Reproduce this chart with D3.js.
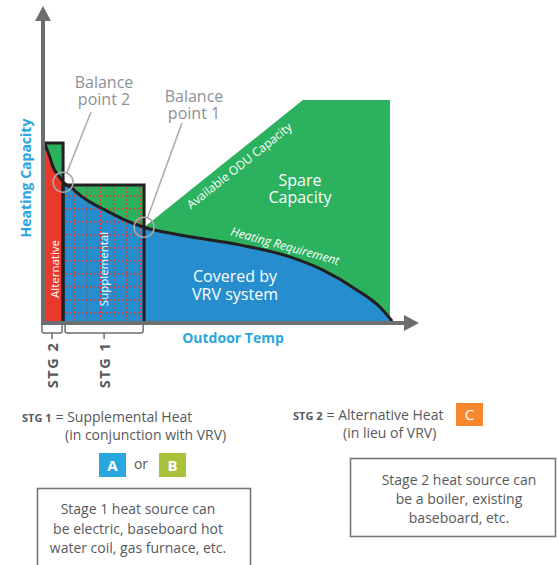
<!DOCTYPE html>
<html><head><meta charset="utf-8">
<script src="https://cdn.jsdelivr.net/npm/d3@7"></script>
<style>body{margin:0;background:#fff} svg{display:block;font-family:"Open Sans",sans-serif}</style>
</head><body><svg id="c" width="557" height="565"></svg>
<script>
// ---- data (abstract units: outdoor temp 0-100, heating capacity 0-100) ----
const tempX   = [0.2, 1.7, 2.5, 3.9, 5.3, 8.1, 10, 12.8, 17.5, 21.9, 27.8, 37.8, 54.4, 68.3, 77.5, 86.9, 93.3, 96.7];
const heatReq = [59.5, 54.7, 51.7, 49, 46.7, 44.3, 42.3, 40, 37, 34.3, 31.6, 29, 25.7, 21.7, 17.3, 10.7, 5, 0.3];
const oduX = [27.8, 71.9, 96.1, 96.1];
const oduY = [31.6, 74, 74, 0];
const stageLabels = ["STG 2", "STG 1"];
const stageX0 = [0, 5.3];
const stageX1 = [5.3, 27.8];
const stageTop = [59.7, 45.7];
const stageInner = ["Alternative", "Supplemental"];
const balanceX = [5.3, 27.8];
const balanceY = [46.6, 31.6];
const balanceLabels = [["Balance", "point 2"], ["Balance", "point 1"]];

const C = {green:"#2cb25f", blue:"#268ecf", red:"#e8392b", axis:"#6d6e70", ltext:"#2ba6de", gtext:"#8b9198", dark:"#231f20", txt:"#58595b"};

const svg = d3.select("#c");
const x = d3.scaleLinear().domain([0, 100]).range([44, 404]);
const y = d3.scaleLinear().domain([0, 100]).range([322, 22]);
const pts = tempX.map((t, i) => [t, heatReq[i]]);

const defs = svg.append("defs");
defs.append("clipPath").attr("id", "clipL").append("rect")
  .attr("x", 0).attr("y", 0).attr("width", x(stageX1[0])).attr("height", 565);
defs.append("clipPath").attr("id", "clipR").append("rect")
  .attr("x", x(stageX1[0])).attr("y", 0).attr("width", 557).attr("height", 565);

// multi-line text helper (one text element, tspans)
function multi(xx, yy, lines, lh, attrs) {
  const t = svg.append("text").attr("x", xx).attr("y", yy).attr("text-anchor", "middle");
  Object.entries(attrs).forEach(([k, v]) => t.attr(k, v));
  lines.forEach((l, i) => t.append("tspan").attr("x", xx).attr("dy", i ? lh : 0).text(l));
  return t;
}

// stage boxes background (green above curve)
stageX0.forEach((s, i) => {
  svg.append("rect").attr("x", x(s)).attr("y", y(stageTop[i]))
    .attr("width", x(stageX1[i]) - x(s)).attr("height", y(0) - y(stageTop[i]))
    .attr("fill", C.green);
});
// available ODU capacity polygon
const oduPts = oduX.map((v, i) => [v, oduY[i]]).concat([[oduX[0], 0]]);
svg.append("path").attr("d", d3.line().x(d => x(d[0])).y(d => y(d[1]))(oduPts) + "Z").attr("fill", C.green);

const area = d3.area().x(d => x(d[0])).y0(y(0)).y1(d => y(d[1])).curve(d3.curveMonotoneX);
const areaPts = [[0, heatReq[0]]].concat(pts);
svg.append("path").attr("d", area(areaPts)).attr("fill", C.red).attr("clip-path", "url(#clipL)");
svg.append("path").attr("d", area(areaPts)).attr("fill", C.blue).attr("clip-path", "url(#clipR)");

// supplemental grid (dotted red)
const gx0 = x(stageX0[1]) + 2, gx1 = x(stageX1[1]) - 2, gy0 = y(stageTop[1]) + 2, gy1 = y(0) - 2;
const g = svg.append("g").attr("stroke", C.red).attr("stroke-width", 1.4).attr("stroke-dasharray", "2,2");
d3.range(gx0 + 9, gx1, 13.2).forEach(v => g.append("line").attr("x1", v).attr("x2", v).attr("y1", gy0).attr("y2", gy1));
d3.range(gy0 + 9, gy1, 13).forEach(v => g.append("line").attr("y1", v).attr("y2", v).attr("x1", gx0).attr("x2", gx1));

// box outlines
stageX0.forEach((s, i) => {
  svg.append("path")
    .attr("d", `M${x(s)},${y(stageTop[i])}H${x(stageX1[i])}V${y(0)}` + (i === 1 ? `M${x(s)},${y(stageTop[i])}V${y(0)}` : ""))
    .attr("fill", "none").attr("stroke", C.dark).attr("stroke-width", 3);
});

// heating requirement curve
svg.append("path").attr("d", d3.line().x(d => x(d[0])).y(d => y(d[1])).curve(d3.curveMonotoneX)(pts))
  .attr("fill", "none").attr("stroke", C.dark).attr("stroke-width", 3);

// axes
svg.append("line").attr("x1", x(0) - 1).attr("x2", x(0) - 1).attr("y1", y(0) + 3).attr("y2", 20)
  .attr("stroke", C.axis).attr("stroke-width", 4);
svg.append("path").attr("d", `M${x(0)-9},21L${x(0)-1},6L${x(0)+7},21Z`).attr("fill", C.axis);
svg.append("line").attr("x1", x(0) - 3).attr("x2", 406).attr("y1", y(0) + 1).attr("y2", y(0) + 1)
  .attr("stroke", C.axis).attr("stroke-width", 4);
svg.append("path").attr("d", `M404,${y(0)-7}L419,${y(0)+1}L404,${y(0)+9}Z`).attr("fill", C.axis);

// axis titles
svg.append("text").attr("transform", `translate(31,${178}) rotate(-90)`).attr("text-anchor", "middle")
  .attr("font-size", 14).attr("font-weight", 700).attr("fill", C.ltext).text("Heating Capacity");
svg.append("text").attr("x", 233).attr("y", 343).attr("text-anchor", "middle")
  .attr("font-size", 14).attr("font-weight", 700).attr("fill", C.ltext).text("Outdoor Temp");

// inner vertical labels
const innerCx = [54.5, 103.5];
stageInner.forEach((t, i) => {
  svg.append("text").attr("transform", `translate(${innerCx[i] + 4},${269}) rotate(-90)`).attr("text-anchor", "middle")
    .attr("font-size", 11.5).attr("fill", "#fff").text(t);
});

// balance points
const labelPos = [[104, 88], [194, 102]];
const leaderStart = [[91, 112], [182, 123]];
balanceX.forEach((bx, i) => {
  const cx = x(bx), cy = y(balanceY[i]), r = 10;
  const [sx, sy] = leaderStart[i];
  const dx = cx - sx, dy = cy - sy, L = Math.hypot(dx, dy);
  svg.append("line").attr("x1", sx).attr("y1", sy).attr("x2", cx - dx / L * r).attr("y2", cy - dy / L * r)
    .attr("stroke", "#a7a9ac").attr("stroke-width", 1.5);
  svg.append("circle").attr("cx", cx).attr("cy", cy).attr("r", r).attr("fill", "none")
    .attr("stroke", "#a7a9ac").attr("stroke-width", 1.6);
  multi(labelPos[i][0], labelPos[i][1], balanceLabels[i], 16.5, {"font-size": 16, fill: C.gtext});
});

// in-chart white labels
svg.append("text").attr("transform", "translate(242,169) rotate(-38.5)").attr("text-anchor", "middle")
  .attr("font-size", 12).attr("fill", "#fff").text("Available ODU Capacity");
svg.append("text").attr("transform", "translate(284,250) rotate(15.5)").attr("text-anchor", "middle")
  .attr("font-size", 12).attr("font-style", "italic").attr("fill", "#fff").text("Heating Requirement");
multi(300, 186, ["Spare", "Capacity"], 17, {"font-size": 16, fill: "#fff"});
multi(235, 282, ["Covered by", "VRV system"], 18, {"font-size": 16, fill: "#fff"});

// stage brackets
stageX0.forEach((s, i) => {
  const a = (i === 0 ? x(s) - 2 : x(s) + 2), b = x(stageX1[i]) - 1, m = (a + b) / 2, t = 324, yb = 333;
  svg.append("path").attr("d", `M${a},${t}V${yb-2}Q${a},${yb} ${a+2},${yb}H${b-2}Q${b},${yb} ${b},${yb-2}V${t}M${m},${yb}V${yb+6}`)
    .attr("fill", "none").attr("stroke", C.axis).attr("stroke-width", 1.5);
  svg.append("text").attr("transform", `translate(${m + 6},365) rotate(-90)`).attr("text-anchor", "middle")
    .attr("font-size", 14.5).attr("font-weight", 700).attr("letter-spacing", 1.5).attr("fill", C.txt).text(stageLabels[i]);
});

// legend text
function legend(x0, yy, tag, rest, sub, subX) {
  const t = svg.append("text").attr("x", x0).attr("y", yy).attr("fill", C.txt);
  t.append("tspan").attr("font-size", 11).attr("font-weight", 700).text(tag);
  t.append("tspan").attr("font-size", 14).attr("dx", 4).text(rest);
  t.append("tspan").attr("font-size", 14).attr("x", subX).attr("dy", 17.5).text(sub);
}
legend(22, 422, "STG 1", "= Supplemental Heat", "(in conjunction with VRV)", 65);
legend(293, 420, "STG 2", "= Alternative Heat", "(in lieu of VRV)", 343);

const swatches = [["A", 99, 453, 27, 24, "#29a8e0", 700], ["B", 159, 453, 27, 24, "#a9c23a", 700], ["C", 456, 403, 27, 23, "#f7882f", 400]];
swatches.forEach(([l, sx, sy, w, h, col, fw]) => {
  svg.append("rect").attr("x", sx).attr("y", sy).attr("width", w).attr("height", h).attr("fill", col);
  svg.append("text").attr("x", sx + w / 2).attr("y", sy + h / 2 + 5.5).attr("text-anchor", "middle")
    .attr("font-size", 15).attr("font-weight", fw).attr("fill", "#fff").text(l);
});
svg.append("text").attr("x", 141).attr("y", 469).attr("text-anchor", "middle").attr("font-size", 14).attr("fill", C.txt).text("or");

// note boxes
svg.append("rect").attr("x", 37.5).attr("y", 488.5).attr("width", 213).attr("height", 100)
  .attr("fill", "none").attr("stroke", "#777").attr("stroke-width", 1.6);
multi(138, 514, ["Stage 1 heat source can", "be electric, baseboard hot", "water coil, gas furnace, etc."], 19.5, {"font-size": 14, fill: C.txt});
svg.append("rect").attr("x", 350.5).attr("y", 458.5).attr("width", 205).attr("height", 78)
  .attr("fill", "none").attr("stroke", "#777").attr("stroke-width", 1.6);
multi(459, 485, ["Stage 2 heat source can", "be a boiler, existing", "baseboard, etc."], 19, {"font-size": 14, fill: C.txt});
</script></body></html>
